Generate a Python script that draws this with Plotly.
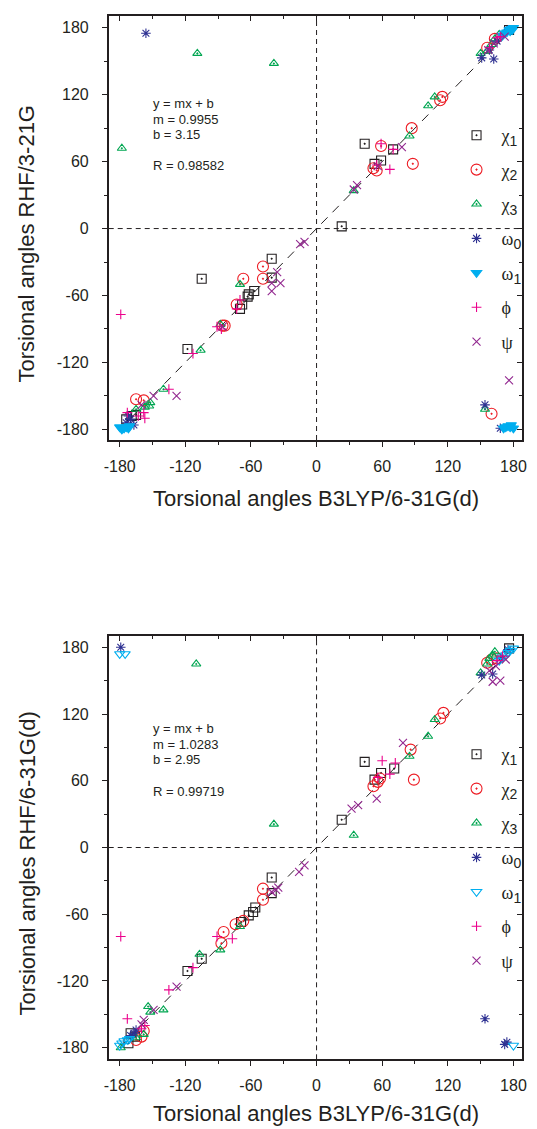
import plotly.graph_objects as go

W, H = 537, 1129

# ---------------- data (degrees) ----------------
tick_vals = [-180, -120, -60, 0, 60, 120, 180]
tick_text = ["-180", "-120", "-60", "0", "60", "120", "180"]
minor_vals = [-150, -90, -30, 30, 90, 150]
diag_ends = [-180, 180]

SUBSTYLE = "font-family:Liberation Sans, Arial, sans-serif;font-size:14px"
series_names = [f"χ<sub><span style='{SUBSTYLE}'>1</span></sub>",
                f"χ<sub><span style='{SUBSTYLE}'>2</span></sub>",
                f"χ<sub><span style='{SUBSTYLE}'>3</span></sub>",
                f"ω<sub><span style='{SUBSTYLE}'>0</span></sub>",
                f"ω<sub><span style='{SUBSTYLE}'>1</span></sub>",
                "ϕ", "ψ"]

# top panel: B3LYP/6-31G(d) vs RHF/3-21G
chi1_top_x = [44, 23, 70, 59, 53, -41, -41, -105, -62, -57, -63, -68, -70, -118, -174, -169, -165, 176]
chi1_top_y = [76, 2, 71, 61, 58, -27, -44, -45, -59, -56, -61, -68, -72, -108, -171, -168, -167, 178]
chi2_top_x = [59, 87, 88, 115, 113, 52, 55, -49, -49, -67, -73, -84, -86, -165, -158, 160, 156, 163]
chi2_top_y = [74, 90, 58, 118, 115, 54, 52, -34, -45, -45, -68, -87, -87, -153, -154, -166, 162, 170]
chi3_top_x = [-109, -39, -178, 108, 102, 85, 34, -70, -88, -106, -140, -165, -157, -153, -152, 154, 150, 156, 160, 163, 167]
chi3_top_y = [157, 148, 72, 118, 110, 83, 34, -50, -86, -109, -144, -162, -160, -159, -156, -162, 157, 159, 165, 170, 174]
omega0_top_x = [-156, 151, 162, 154, 168, -174, -170, -167, -172, 158, 165, 175]
omega0_top_y = [175, 153, 152, -158, -179, -174, -171, -176, -168, 160, 168, 178]
omega1_top_x = [170, 172, 174, 176, 178, 180, 179, 177, -180, -178, -176, -174, -172, -171, 171, 173, 175, 177, 178, 180]
omega1_top_y = [173, 175, 176, 178, 179, 180, 178, 177, -178, -180, -179, -178, -179, -177, -179, -178, -177, -178, -176, -179]
phi_top_x = [67, 70, 59, 55, -179, -91, -87, -73, -70, -113, -135, -173, -158, -157, -163, 158, 168, 165]
phi_top_y = [53, 71, 76, 57, -77, -88, -90, -72, -64, -112, -144, -165, -165, -170, -168, 162, 172, 171]
psi_top_x = [78, 37, 34, -15, -11, -36, -33, -41, -41, -128, -149, -160, 176, 157, 162, 172, 56, -86]
psi_top_y = [73, 39, 35, -14, -12, -39, -49, -56, -49, -150, -150, -158, -136, 160, 166, 172, 56, -88]

# bottom panel: B3LYP/6-31G(d) vs RHF/6-31G(d)
chi1_bot_x = [44, 23, 71, 59, 53, -41, -41, -62, -58, -56, -69, -105, -118, -170, -172, -166, 176]
chi1_bot_y = [77, 25, 71, 67, 61, -27, -41, -61, -58, -54, -67, -100, -111, -167, -176, -170, 179]
chi2_bot_x = [86, 89, 116, 113, 52, 56, 58, -49, -49, -67, -74, -85, -87, -158, -165, -160, 156, 160, 165]
chi2_bot_y = [88, 61, 121, 116, 55, 59, 62, -37, -47, -66, -69, -76, -86, -165, -173, -170, 166, 169, 170]
chi3_bot_x = [-110, -39, 108, 102, 85, 34, -70, -88, -107, -154, -152, -140, -158, -165, -179, 150, 156, 161, 163, 158]
chi3_bot_y = [165, 21, 115, 100, 82, 11, -71, -92, -96, -143, -148, -146, -168, -171, -180, 157, 165, 173, 176, 170]
omega0_bot_x = [-179, 151, 161, 154, 174, 172, -167, -170, -165, 168, 175]
omega0_bot_y = [180, 155, 156, -154, -175, -177, -167, -169, -164, 170, 178]
omega1_bot_x = [-180, -175, -180, -178, -176, -173, -171, 167, 170, 173, 175, 177, 180, 180]
omega1_bot_y = [174, 174, -178, -176, -174, -173, -172, 168, 171, 173, 175, 177, 179, -178]
phi_bot_x = [60, 67, 72, 56, -179, -91, -77, -113, -135, -173, -157, -160, 165, 170]
phi_bot_y = [78, 66, 76, 63, -80, -80, -82, -108, -128, -154, -160, -163, 168, 172]
psi_bot_x = [79, 55, 32, 38, -16, -11, -35, -41, -37, -128, -149, -158, -160, 161, 158, 164, 173, 168]
psi_bot_y = [94, 44, 35, 38, -22, -16, -36, -40, -38, -125, -146, -155, -159, 149, 159, 163, 169, 150]

fit_top = ["y = mx + b", "m = 0.9955", "b = 3.15", "R = 0.98582"]
fit_bot = ["y = mx + b", "m = 1.0283", "b = 2.95", "R = 0.99719"]

# ---------------- styles ----------------
INK = "#231f20"
colors = ["#231f20", "#ed1c24", "#00a651", "#2e3192", "#00aeef", "#ec008c", "#92278f"]
symbols_top = ["square-open-dot", "circle-open-dot", "triangle-up-open-dot", "asterisk-open",
               "triangle-down", "cross-thin-open", "x-thin-open"]
symbols_bot = ["square-open-dot", "circle-open-dot", "triangle-up-open-dot", "asterisk-open",
               "triangle-down-open", "cross-thin-open", "x-thin-open"]
sizes = [9, 11, 8, 8, 9, 7, 8]


def px(x):
    return x / W


def py(y):
    return 1 - y / H


fig = go.Figure()

top_sets = [(chi1_top_x, chi1_top_y), (chi2_top_x, chi2_top_y), (chi3_top_x, chi3_top_y),
            (omega0_top_x, omega0_top_y), (omega1_top_x, omega1_top_y),
            (phi_top_x, phi_top_y), (psi_top_x, psi_top_y)]
bot_sets = [(chi1_bot_x, chi1_bot_y), (chi2_bot_x, chi2_bot_y), (chi3_bot_x, chi3_bot_y),
            (omega0_bot_x, omega0_bot_y), (omega1_bot_x, omega1_bot_y),
            (phi_bot_x, phi_bot_y), (psi_bot_x, psi_bot_y)]

for panel, (sets, syms, xa, ya, leg) in enumerate([
        (top_sets, symbols_top, "x", "y", "legend"),
        (bot_sets, symbols_bot, "x2", "y2", "legend2")]):
    # diagonal reference line
    fig.add_trace(go.Scatter(x=diag_ends, y=diag_ends, mode="lines", xaxis=xa, yaxis=ya,
                             line=dict(color=INK, width=1, dash="9px,7px"),
                             showlegend=False, hoverinfo="skip"))
    for i, (xs, ys) in enumerate(sets):
        fig.add_trace(go.Scatter(
            x=xs, y=ys, mode="markers", xaxis=xa, yaxis=ya, name=series_names[i],
            legend=leg, legendgroup=f"{panel}-{i}",
            marker=dict(symbol=syms[i], size=sizes[i], color=colors[i],
                        line=dict(color=colors[i], width=1.1))))

# domains (pixel-measured)
xdom = [px(105.7), px(527)]
ydom_top = [py(440), py(16)]
ydom_bot = [py(1059.3), py(635.7)]
xr = [-190, 188]
yr_top = [-189.5, 190.5]
yr_bot = [-190.4, 190.4]

tickfont = dict(family="Liberation Sans, Arial, sans-serif", size=16, color=INK)


def base_axis(rng, dom, anchor, side=None, labels=True, ticks="outside", standoff=6):
    d = dict(range=rng, domain=dom, anchor=anchor, tickvals=tick_vals, ticktext=tick_text,
             showgrid=False, zeroline=False, showline=True, linecolor=INK, linewidth=1.6,
             ticks=ticks, ticklen=5, tickwidth=1.2, tickcolor=INK, showticklabels=labels,
             tickfont=tickfont, ticklabelstandoff=standoff if labels else 0,
             minor=dict(tickvals=minor_vals, ticks=ticks, ticklen=3,
                        tickwidth=1, tickcolor=INK, showgrid=False),
             fixedrange=True)
    if side:
        d["side"] = side
    return d


layout_axes = {}
layout_axes["xaxis"] = base_axis(xr, xdom, "y")
layout_axes["yaxis"] = base_axis(yr_top, ydom_top, "x", standoff=10)
layout_axes["xaxis2"] = base_axis(xr, xdom, "y2")
layout_axes["yaxis2"] = base_axis(yr_bot, ydom_bot, "x2", standoff=10)
# mirrored axes with inward ticks
layout_axes["xaxis3"] = base_axis(xr, xdom, "y", side="top", labels=False, ticks="inside")
layout_axes["xaxis3"]["overlaying"] = "x"
layout_axes["yaxis3"] = base_axis(yr_top, ydom_top, "x", side="right", labels=False, ticks="inside")
layout_axes["yaxis3"]["overlaying"] = "y"
layout_axes["xaxis4"] = base_axis(xr, xdom, "y2", side="top", labels=False, ticks="inside")
layout_axes["xaxis4"]["overlaying"] = "x2"
layout_axes["yaxis4"] = base_axis(yr_bot, ydom_bot, "x2", side="right", labels=False, ticks="inside")
layout_axes["yaxis4"]["overlaying"] = "y2"

# invisible anchors so the mirrored axes are drawn
fig.add_trace(go.Scatter(x=diag_ends, y=diag_ends, xaxis="x3", yaxis="y3", mode="lines",
                         line=dict(width=0, color="rgba(0,0,0,0)"), showlegend=False, hoverinfo="skip"))
fig.add_trace(go.Scatter(x=diag_ends, y=diag_ends, xaxis="x4", yaxis="y4", mode="lines",
                         line=dict(width=0, color="rgba(0,0,0,0)"), showlegend=False, hoverinfo="skip"))

shapes = []
for xa, ya in [("x", "y"), ("x2", "y2")]:
    shapes.append(dict(type="line", xref=xa, yref=f"{ya} domain", x0=0, x1=0, y0=0, y1=1,
                       line=dict(color=INK, width=1, dash="5px,4px")))
    shapes.append(dict(type="line", xref=f"{xa} domain", yref=ya, x0=0, x1=1, y0=0, y1=0,
                       line=dict(color=INK, width=1, dash="5px,4px")))

annotations = []
statfont = dict(family="Liberation Sans, Arial, sans-serif", size=13, color=INK)
for lines, ys in [(fit_top, [104, 119, 134.5, 165.5]), (fit_bot, [728.5, 744, 759.5, 791])]:
    for t, yy in zip(lines, ys):
        annotations.append(dict(text=t, x=px(149), y=py(yy), xref="paper", yref="paper",
                                xanchor="left", yanchor="middle", showarrow=False, font=statfont))

titlefont = dict(family="Liberation Sans, Arial, sans-serif", size=22, color=INK)
annotations += [
    dict(text="Torsional angles RHF/3-21G", x=px(22), y=py(244), xref="paper", yref="paper",
         textangle=-90, showarrow=False, font=titlefont, xanchor="center", yanchor="middle"),
    dict(text="Torsional angles B3LYP/6-31G(d)", x=px(317), y=py(499), xref="paper", yref="paper",
         showarrow=False, font=titlefont, xanchor="center", yanchor="middle"),
    dict(text="Torsional angles RHF/6-31G(d)", x=px(22), y=py(864), xref="paper", yref="paper",
         textangle=-90, showarrow=False, font=titlefont, xanchor="center", yanchor="middle"),
    dict(text="Torsional angles B3LYP/6-31G(d)", x=px(317), y=py(1113), xref="paper", yref="paper",
         showarrow=False, font=titlefont, xanchor="center", yanchor="middle"),
]

legfont = dict(family="Liberation Serif, Times New Roman, serif", size=18, color=INK)
legend_common = dict(xanchor="left", yanchor="top", bgcolor="rgba(0,0,0,0)", borderwidth=0,
                     font=legfont, tracegroupgap=8, itemsizing="trace", itemwidth=40)

fig.update_layout(
    width=W, height=H, margin=dict(l=0, r=0, t=0, b=0),
    paper_bgcolor="white", plot_bgcolor="white",
    shapes=shapes, annotations=annotations,
    legend=dict(x=px(455), y=py(117), **legend_common),
    legend2=dict(x=px(455), y=py(736), **legend_common),
    **layout_axes,
)

fig.write_html("out.html", config={"displayModeBar": False},
               post_script="document.body.style.margin='0px';")
